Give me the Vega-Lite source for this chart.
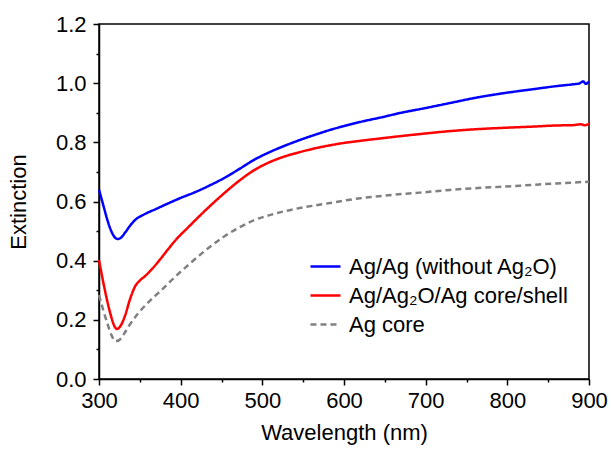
{
  "$schema": "https://vega.github.io/schema/vega-lite/v6.json",
  "width": 490,
  "height": 355,
  "autosize": {"type": "none"},
  "padding": {"left": 99, "top": 24, "right": 22, "bottom": 70},
  "background": "white",
  "config": {
    "font": "Liberation Sans",
    "view": {"stroke": "#000", "strokeWidth": 1.5},
    "axis": {
      "domainColor": "#000", "domainWidth": 1.5, "tickColor": "#000", "tickWidth": 1.5,
      "labelColor": "#000", "titleColor": "#000", "labelFontSize": 22, "titleFontSize": 22,
      "titleFontWeight": "normal", "grid": false, "labelFlush": false, "labelOverlap": false
    }
  },
  "data": {"values": [
    {"s": "blue", "x": 300, "y": 0.64}, {"s": "blue", "x": 305, "y": 0.59}, {"s": "blue", "x": 310, "y": 0.54},
    {"s": "blue", "x": 315, "y": 0.5}, {"s": "blue", "x": 320, "y": 0.477}, {"s": "blue", "x": 323, "y": 0.473},
    {"s": "blue", "x": 327, "y": 0.478}, {"s": "blue", "x": 332, "y": 0.495}, {"s": "blue", "x": 338, "y": 0.518},
    {"s": "blue", "x": 344, "y": 0.537}, {"s": "blue", "x": 355, "y": 0.556}, {"s": "blue", "x": 370, "y": 0.575},
    {"s": "blue", "x": 385, "y": 0.594}, {"s": "blue", "x": 399, "y": 0.611}, {"s": "blue", "x": 418, "y": 0.632},
    {"s": "blue", "x": 436, "y": 0.655}, {"s": "blue", "x": 455, "y": 0.682}, {"s": "blue", "x": 473, "y": 0.712},
    {"s": "blue", "x": 490, "y": 0.741}, {"s": "blue", "x": 509, "y": 0.767}, {"s": "blue", "x": 527, "y": 0.788},
    {"s": "blue", "x": 546, "y": 0.808}, {"s": "blue", "x": 565, "y": 0.826}, {"s": "blue", "x": 583, "y": 0.842},
    {"s": "blue", "x": 600, "y": 0.855}, {"s": "blue", "x": 620, "y": 0.869}, {"s": "blue", "x": 645, "y": 0.884},
    {"s": "blue", "x": 670, "y": 0.9}, {"s": "blue", "x": 700, "y": 0.916}, {"s": "blue", "x": 730, "y": 0.933},
    {"s": "blue", "x": 760, "y": 0.95}, {"s": "blue", "x": 795, "y": 0.966}, {"s": "blue", "x": 830, "y": 0.979},
    {"s": "blue", "x": 860, "y": 0.99}, {"s": "blue", "x": 880, "y": 0.996}, {"s": "blue", "x": 888, "y": 0.999},
    {"s": "blue", "x": 893, "y": 1.006}, {"s": "blue", "x": 896, "y": 0.998}, {"s": "blue", "x": 900, "y": 1.006},
    {"s": "red", "x": 300, "y": 0.402}, {"s": "red", "x": 305, "y": 0.33}, {"s": "red", "x": 310, "y": 0.265},
    {"s": "red", "x": 315, "y": 0.21}, {"s": "red", "x": 319, "y": 0.178}, {"s": "red", "x": 322, "y": 0.169},
    {"s": "red", "x": 326, "y": 0.178}, {"s": "red", "x": 332, "y": 0.215}, {"s": "red", "x": 338, "y": 0.27},
    {"s": "red", "x": 344, "y": 0.312}, {"s": "red", "x": 350, "y": 0.333}, {"s": "red", "x": 356, "y": 0.347},
    {"s": "red", "x": 365, "y": 0.372}, {"s": "red", "x": 375, "y": 0.405}, {"s": "red", "x": 385, "y": 0.44},
    {"s": "red", "x": 393, "y": 0.467}, {"s": "red", "x": 410, "y": 0.515}, {"s": "red", "x": 436, "y": 0.585},
    {"s": "red", "x": 455, "y": 0.632}, {"s": "red", "x": 473, "y": 0.673}, {"s": "red", "x": 490, "y": 0.706},
    {"s": "red", "x": 509, "y": 0.733}, {"s": "red", "x": 527, "y": 0.752}, {"s": "red", "x": 546, "y": 0.767},
    {"s": "red", "x": 565, "y": 0.78}, {"s": "red", "x": 583, "y": 0.79}, {"s": "red", "x": 600, "y": 0.798},
    {"s": "red", "x": 620, "y": 0.805}, {"s": "red", "x": 650, "y": 0.815}, {"s": "red", "x": 693, "y": 0.828},
    {"s": "red", "x": 730, "y": 0.838}, {"s": "red", "x": 760, "y": 0.844}, {"s": "red", "x": 795, "y": 0.849},
    {"s": "red", "x": 830, "y": 0.853}, {"s": "red", "x": 860, "y": 0.857}, {"s": "red", "x": 880, "y": 0.858},
    {"s": "red", "x": 890, "y": 0.861}, {"s": "red", "x": 895, "y": 0.858}, {"s": "red", "x": 900, "y": 0.863},
    {"s": "grey", "x": 300, "y": 0.284}, {"s": "grey", "x": 305, "y": 0.235}, {"s": "grey", "x": 310, "y": 0.19},
    {"s": "grey", "x": 315, "y": 0.15}, {"s": "grey", "x": 320, "y": 0.128}, {"s": "grey", "x": 324, "y": 0.13},
    {"s": "grey", "x": 330, "y": 0.15}, {"s": "grey", "x": 338, "y": 0.185}, {"s": "grey", "x": 348, "y": 0.222},
    {"s": "grey", "x": 360, "y": 0.258}, {"s": "grey", "x": 377, "y": 0.302}, {"s": "grey", "x": 393, "y": 0.345},
    {"s": "grey", "x": 410, "y": 0.387}, {"s": "grey", "x": 436, "y": 0.447}, {"s": "grey", "x": 455, "y": 0.485},
    {"s": "grey", "x": 473, "y": 0.514}, {"s": "grey", "x": 490, "y": 0.537}, {"s": "grey", "x": 509, "y": 0.554},
    {"s": "grey", "x": 527, "y": 0.567}, {"s": "grey", "x": 546, "y": 0.578}, {"s": "grey", "x": 565, "y": 0.587},
    {"s": "grey", "x": 583, "y": 0.595}, {"s": "grey", "x": 600, "y": 0.603}, {"s": "grey", "x": 620, "y": 0.611},
    {"s": "grey", "x": 650, "y": 0.62}, {"s": "grey", "x": 693, "y": 0.63}, {"s": "grey", "x": 730, "y": 0.639},
    {"s": "grey", "x": 760, "y": 0.645}, {"s": "grey", "x": 795, "y": 0.65}, {"s": "grey", "x": 830, "y": 0.656},
    {"s": "grey", "x": 860, "y": 0.661}, {"s": "grey", "x": 900, "y": 0.667}
  ]},
  "layer": [
    {
      "mark": {"type": "line", "strokeWidth": 2.5, "interpolate": "monotone"},
      "encoding": {
        "x": {"field": "x", "type": "quantitative", "scale": {"domain": [300, 900], "nice": false, "zero": false},
          "axis": {"title": "Wavelength (nm)", "values": [300, 400, 500, 600, 700, 800, 900], "tickSize": 6, "labelPadding": 5, "titlePadding": 11}},
        "y": {"field": "y", "type": "quantitative", "scale": {"domain": [0, 1.2], "nice": false},
          "axis": {"title": "Extinction", "values": [0, 0.2, 0.4, 0.6, 0.8, 1.0, 1.2], "format": ".1f", "tickSize": 6, "labelPadding": 7, "titlePadding": 25}},
        "color": {"field": "s", "type": "nominal", "title": null,
          "scale": {"domain": ["blue", "red", "grey"], "range": ["#0000ff", "#ff0000", "#808080"]},
          "legend": {"orient": "none", "legendX": 210, "legendY": 226, "padding": 0, "symbolType": "stroke", "symbolSize": 900,
            "symbolStrokeWidth": 2.5, "labelFontSize": 22, "labelColor": "#000", "rowPadding": 1, "labelOffset": 7, "labelLimit": 0,
            "labelExpr": "datum.value == 'blue' ? 'Ag/Ag (without Ag₂O)' : datum.value == 'red' ? 'Ag/Ag₂O/Ag core/shell' : 'Ag core'"}},
        "strokeDash": {"field": "s", "type": "nominal", "title": null,
          "scale": {"domain": ["blue", "red", "grey"], "range": [[1, 0], [1, 0], [6, 4]]},
          "legend": {"orient": "none", "legendX": 210, "legendY": 226, "padding": 0, "symbolType": "stroke", "symbolSize": 900,
            "symbolStrokeWidth": 2.5, "labelFontSize": 22, "labelColor": "#000", "rowPadding": 1, "labelOffset": 7, "labelLimit": 0,
            "labelExpr": "datum.value == 'blue' ? 'Ag/Ag (without Ag₂O)' : datum.value == 'red' ? 'Ag/Ag₂O/Ag core/shell' : 'Ag core'"}}
      }
    },
    {
      "mark": {"type": "point", "opacity": 0},
      "encoding": {
        "x": {"field": "x", "type": "quantitative", "axis": {"orient": "bottom", "title": null, "labels": false, "domain": false, "values": [350, 450, 550, 650, 750, 850], "tickSize": 3}},
        "y": {"field": "y", "type": "quantitative", "axis": {"orient": "left", "title": null, "labels": false, "domain": false, "values": [0.1, 0.3, 0.5, 0.7, 0.9, 1.1], "tickSize": 3}}
      }
    }
  ],
  "resolve": {"axis": {"x": "independent", "y": "independent"}}
}
